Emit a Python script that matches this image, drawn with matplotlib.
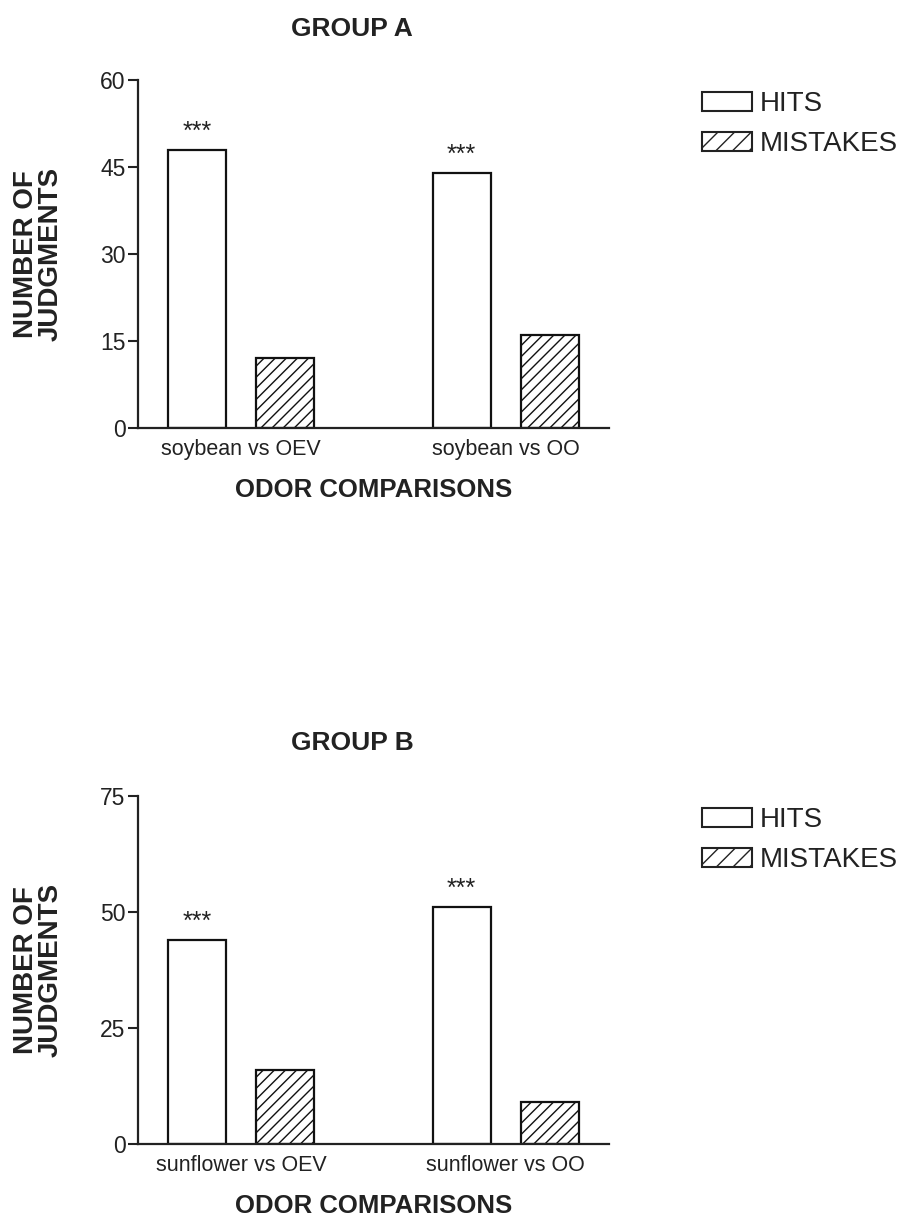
import matplotlib
matplotlib.use("Agg")
import matplotlib.pyplot as plt
from matplotlib.patches import Patch

plt.rcParams['font.family'] = ['Liberation Sans', 'DejaVu Sans']
plt.rcParams['hatch.linewidth'] = 1.0

# judgments per odor comparison
comparisons_a = ["soybean vs OEV", "soybean vs OO"]
hits_a = [48, 44]
mistakes_a = [12, 16]

comparisons_b = ["sunflower vs OEV", "sunflower vs OO"]
hits_b = [44, 51]
mistakes_b = [16, 9]

stars = "***"

W, H = 904, 1217
INK = "#222222"
fig = plt.figure(figsize=(W / 100, H / 100), dpi=100)


def drawPanel(rect, title, title_y, labels, hits, mistakes, ymax, yticks):
  ax = fig.add_axes(rect)
  centers = [1.78, 6.34]
  off = 0.76
  hit_x = [c - off for c in centers]
  mis_x = [c + off for c in centers]
  ax.bar(hit_x, hits, width=1.0, color="white", edgecolor="#111111", linewidth=1.6)
  ax.bar(mis_x, mistakes, width=1.0, color="white", edgecolor="#111111", linewidth=1.6, hatch="///")
  for x, v in zip(hit_x, hits):
    ax.annotate(stars, (x, v), xytext=(0, 8), textcoords="offset points",
                ha="center", va="baseline", fontsize=18, color=INK)
  ax.set_xlim(0, 8.12)
  ax.set_ylim(0, ymax)
  ax.set_yticks(yticks)
  ax.set_xticks(centers)
  ax.set_xticklabels(labels, fontsize=15.5)
  ax.tick_params(axis="x", length=0, pad=8, colors=INK)
  ax.tick_params(axis="y", length=7, width=1.5, pad=2, labelsize=16.5, colors=INK)
  for s in ["top", "right"]:
    ax.spines[s].set_visible(False)
  for s in ["left", "bottom"]:
    ax.spines[s].set_linewidth(1.6)
    ax.spines[s].set_color(INK)
  ax.set_xlabel("ODOR COMPARISONS", fontsize=18.5, fontweight="bold", labelpad=13, color=INK)
  fig.text(352 / W, title_y, title, ha="center", va="center",
           fontsize=19, fontweight="bold", color=INK)
  box = ax.get_position()
  fig.text(38.5 / W, box.y0 + box.height / 2, "NUMBER OF\nJUDGMENTS", rotation=90,
           ha="center", va="center", fontsize=20, fontweight="bold",
           linespacing=0.93, color=INK)
  handles = [Patch(facecolor="white", edgecolor=INK, linewidth=1.5, label="HITS"),
             Patch(facecolor="white", edgecolor=INK, linewidth=1.5, hatch="//", label="MISTAKES")]
  ax.legend(handles=handles, loc="upper left", bbox_to_anchor=(1.197, 0.967),
            frameon=False, fontsize=20, handlelength=1.8, handleheight=0.68,
            handletextpad=0.28, labelspacing=0.49, borderpad=0, borderaxespad=0,
            labelcolor=INK)
  return ax


drawPanel([138 / W, 1 - 428 / H, 471 / W, 348 / H], "GROUP A", 1 - 29 / H,
          comparisons_a, hits_a, mistakes_a, 60, [0, 15, 30, 45, 60])
drawPanel([138 / W, 1 - 1144 / H, 471 / W, 348.3 / H], "GROUP B", 1 - 743 / H,
          comparisons_b, hits_b, mistakes_b, 75, [0, 25, 50, 75])

fig.savefig("out.png", dpi=100)
